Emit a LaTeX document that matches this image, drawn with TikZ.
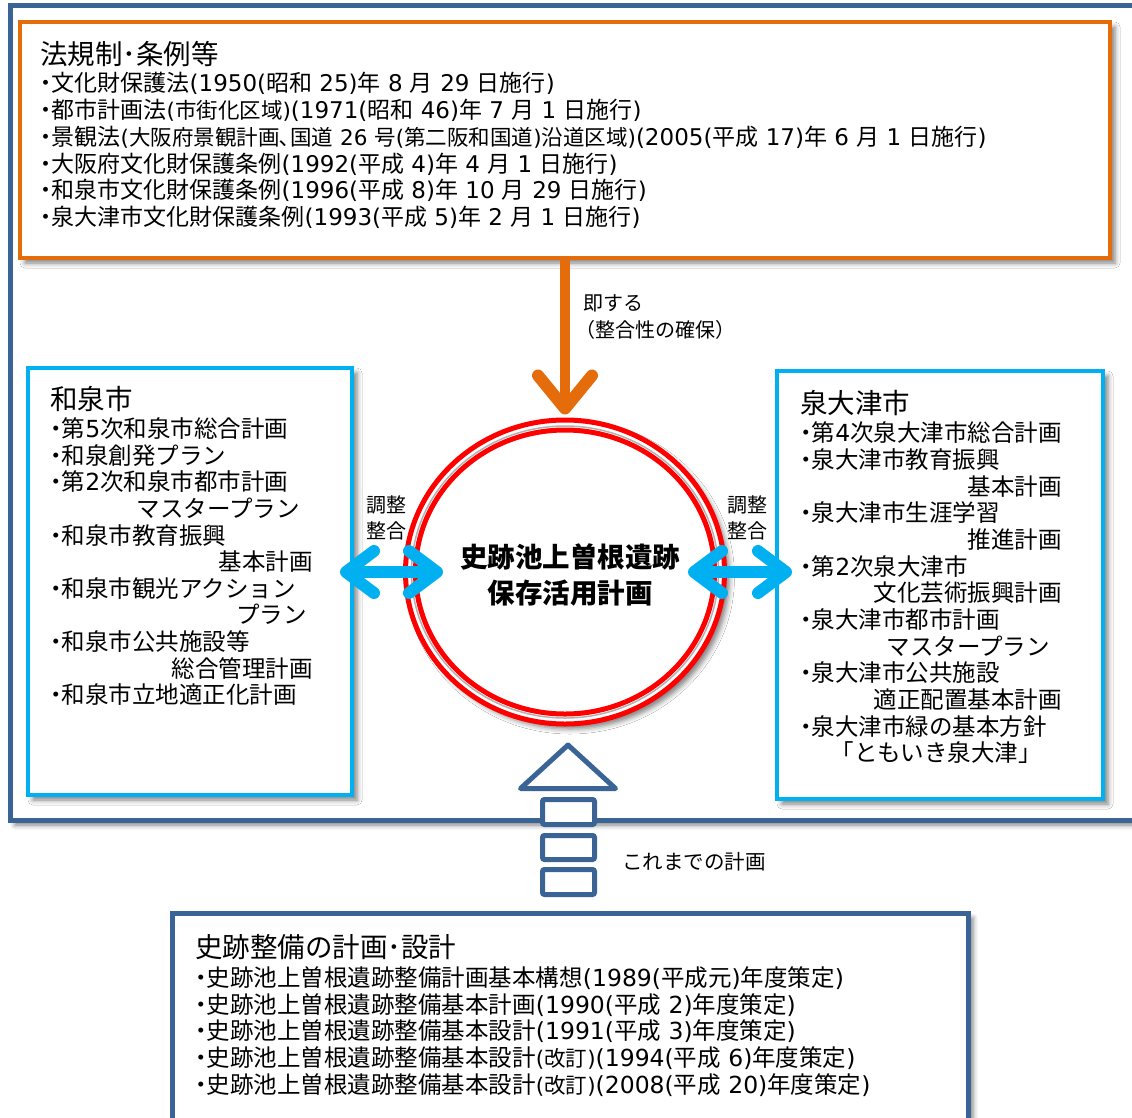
\documentclass[tikz,border=0pt]{standalone}
\usepackage{fontspec}
\setmainfont{Noto Sans CJK JP}
\newfontfamily\latf{DejaVu Sans}
\newcommand\nm[1]{{\latf #1}}
\newcommand\bul{\makebox[0.5em][c]{・}}
\newcommand\smf{\fontsize{21.5}{27}\selectfont}
\usetikzlibrary{shapes.geometric,shadows.blur,calc}
\definecolor{frameblue}{HTML}{3A6496}
\definecolor{orng}{HTML}{E46C0A}
\definecolor{cyanb}{HTML}{00B0F0}
\definecolor{ringred}{HTML}{FF0000}
\tikzset{
 shd/.style={blur shadow={shadow xshift=5pt, shadow yshift=-5pt, shadow blur radius=5pt, shadow opacity=50}},
 panel/.style={rectangle, fill=white, shd, inner sep=0pt},
 ttl/.style={font=\fontsize{27.5}{30}\selectfont, inner sep=0pt, anchor=base west},
 txt/.style={font=\fontsize{23}{27}\selectfont, inner sep=0pt, anchor=base west},
 stxt/.style={font=\fontsize{23.5}{27}\selectfont, inner sep=0pt, anchor=base west},
 rtxt/.style={stxt, anchor=base east},
 lbl/.style={font=\fontsize{20}{24}\selectfont, inner sep=0pt, anchor=base west},
 clbl/.style={lbl, anchor=base},
 ctr/.style={font=\fontsize{27.5}{30}\selectfont\bfseries, inner sep=0pt, anchor=base},
 cyanarm/.style={cyanb, line width=12, line cap=round, line join=round},
 orarm/.style={orng, line width=12, line cap=round, line join=round},
 hollow/.style={frameblue, line width=5, fill=white},
}
\begin{document}
\begin{tikzpicture}[x=1pt,y=-1pt]
\useasboundingbox (0,0) rectangle (1132,1117);
% outer frame
\draw[frameblue, line width=5, fill=white, shd] (10,5) rectangle (1150,820);

% laws box
\node[panel, draw=orng, line width=4, minimum width=1090, minimum height=236] (law) at (565,140) {};
\node[ttl] (lawT) at (40,64.5) {法規制･条例等};
\node[txt] (law1) at (40,91.7) {\bul 文化財保護法\nm{(1950(}昭和\nm{\ 25)}年\nm{\ 8\ }月\nm{\ 29\ }日施行\nm{)}};
\node[txt] (law2) at (40,118.5) {\bul 都市計画法{\smf\nm{(}市街化区域\nm{)}}\nm{(1971(}昭和\nm{\ 46)}年\nm{\ 7\ }月\nm{\ 1\ }日施行\nm{)}};
\node[txt] (law3) at (40,145.3) {\bul 景観法{\smf\nm{(}大阪府景観計画､国道\nm{\ 26\ }号\nm{(}第二阪和国道\nm{)}沿道区域\nm{)}}\nm{(2005(}平成\nm{\ 17)}年\nm{\ 6\ }月\nm{\ 1\ }日施行\nm{)}};
\node[txt] (law4) at (40,172.1) {\bul 大阪府文化財保護条例\nm{(1992(}平成\nm{\ 4)}年\nm{\ 4\ }月\nm{\ 1\ }日施行\nm{)}};
\node[txt] (law5) at (40,198.9) {\bul 和泉市文化財保護条例\nm{(1996(}平成\nm{\ 8)}年\nm{\ 10\ }月\nm{\ 29\ }日施行\nm{)}};
\node[txt] (law6) at (40,225.7) {\bul 泉大津市文化財保護条例\nm{(1993(}平成\nm{\ 5)}年\nm{\ 2\ }月\nm{\ 1\ }日施行\nm{)}};

% central plan
\node[ellipse, draw=ringred, line width=5, fill=white, shd, minimum width=319, minimum height=304, inner sep=0pt] (plan) at (565,572) {};
\draw[gray!60, line width=1.5] (plan.center) ellipse [x radius=153.5, y radius=146];
\draw[ringred, line width=5] (plan.center) ellipse [x radius=149.5, y radius=142];
\node[ctr] (plan1) at (570,567.5) {史跡池上曽根遺跡};
\node[ctr] (plan2) at (570,603.5) {保存活用計画};

% orange connector
\coordinate (otip) at ($(plan.north)+(0,-9)$);
\draw[orng, line width=10] (law.south -| otip) -- ($(otip)+(0,-4)$);
\draw[orarm] ($(otip)+(-27,-33)$) -- (otip) -- ($(otip)+(27,-33)$);
\node[lbl] (sokusu) at (583,310.6) {即する};
\node[lbl] (seigo) at (575,337.6) {（整合性の確保）};

% Izumi box
\node[panel, draw=cyanb, line width=4, minimum width=324, minimum height=427] (izumi) at (190,581.5) {};
\node[ttl] (izT) at (50,409) {和泉市};
\node[stxt] (iz1) at (50,437.7) {\bul 第\nm{5}次和泉市総合計画};
\node[stxt] (iz2) at (50,464.3) {\bul 和泉創発プラン};
\node[stxt] (iz3) at (50,490.9) {\bul 第\nm{2}次和泉市都市計画};
\node[rtxt] (iz4) at (300,517.5) {マスタープラン};
\node[stxt] (iz5) at (50,544.1) {\bul 和泉市教育振興};
\node[rtxt] (iz6) at (313,570.7) {基本計画};
\node[stxt] (iz7) at (50,597.3) {\bul 和泉市観光アクション};
\node[rtxt] (iz8) at (307,623.9) {プラン};
\node[stxt] (iz9) at (50,650.5) {\bul 和泉市公共施設等};
\node[rtxt] (iz10) at (313,677.1) {総合管理計画};
\node[stxt] (iz11) at (50,703.7) {\bul 和泉市立地適正化計画};

% Izumiotsu box
\node[panel, draw=cyanb, line width=4, minimum width=326, minimum height=428] (oz) at (940,585) {};
\node[ttl] (ozT) at (800,413.5) {泉大津市};
\node[stxt] (oz1) at (800,441.7) {\bul 第\nm{4}次泉大津市総合計画};
\node[stxt] (oz2) at (800,468.4) {\bul 泉大津市教育振興};
\node[rtxt] (oz3) at (1062,495) {基本計画};
\node[stxt] (oz4) at (800,521.7) {\bul 泉大津市生涯学習};
\node[rtxt] (oz5) at (1062,548.4) {推進計画};
\node[stxt] (oz6) at (800,575) {\bul 第\nm{2}次泉大津市};
\node[rtxt] (oz7) at (1062,601.7) {文化芸術振興計画};
\node[stxt] (oz8) at (800,628.4) {\bul 泉大津市都市計画};
\node[rtxt] (oz9) at (1050,655.1) {マスタープラン};
\node[stxt] (oz10) at (800,681.7) {\bul 泉大津市公共施設};
\node[rtxt] (oz11) at (1062,708.4) {適正配置基本計画};
\node[stxt] (oz12) at (800,735) {\bul 泉大津市緑の基本方針};
\node[rtxt] (oz13) at (1042,761.7) {「ともいき泉大津」};

% cyan double arrows
\coordinate (la) at ($(plan.west -| izumi.east)+(-8,0)$);
\coordinate (lb) at ($(plan.west)+(34,0)$);
\coordinate (ra) at ($(plan.east)+(-33,0)$);
\coordinate (rb) at ($(plan.east -| oz.west)+(11,0)$);
\draw[cyanb, line width=12] ($(la)+(4,0)$) -- ($(lb)+(-4,0)$);
\draw[cyanarm] ($(la)+(28,-21)$) -- (la) -- ($(la)+(28,21)$);
\draw[cyanarm] ($(lb)+(-28,-21)$) -- (lb) -- ($(lb)+(-28,21)$);
\draw[cyanb, line width=12] ($(ra)+(4,0)$) -- ($(rb)+(-4,0)$);
\draw[cyanarm] ($(ra)+(28,-21)$) -- (ra) -- ($(ra)+(28,21)$);
\draw[cyanarm] ($(rb)+(-28,-21)$) -- (rb) -- ($(rb)+(-28,21)$);
\node[clbl] (adjL1) at (386,512.6) {調整};
\node[clbl] (adjL2) at (386,538.6) {整合};
\node[clbl] (adjR1) at (747,512.6) {調整};
\node[clbl] (adjR2) at (747,538.6) {整合};

% hollow upward arrow (previous plans)
\draw[hollow, line join=round] (568,745) -- (615.5,788.5) -- (520.5,788.5) -- cycle;
\draw[hollow, rounded corners=2] (542.5,799.5) rectangle (594.5,824.5);
\draw[hollow, rounded corners=2] (542.5,835.5) rectangle (594.5,859.5);
\draw[hollow, rounded corners=2] (542.5,869.5) rectangle (594.5,894.5);
\node[lbl, font=\fontsize{20.5}{24}\selectfont] (prev) at (622,869.6) {これまでの計画};

% history box
\node[panel, draw=frameblue, line width=5, minimum width=796, minimum height=230] (hist) at (570,1028) {};
\node[ttl] (hiT) at (195,957.5) {史跡整備の計画･設計};
\node[stxt] (hi1) at (195,986.7) {\bul 史跡池上曽根遺跡整備計画基本構想\nm{(1989(}平成元\nm{)}年度策定\nm{)}};
\node[stxt] (hi2) at (195,1013.3) {\bul 史跡池上曽根遺跡整備基本計画\nm{(1990(}平成\nm{\ 2)}年度策定\nm{)}};
\node[stxt] (hi3) at (195,1039.9) {\bul 史跡池上曽根遺跡整備基本設計\nm{(1991(}平成\nm{\ 3)}年度策定\nm{)}};
\node[stxt] (hi4) at (195,1066.5) {\bul 史跡池上曽根遺跡整備基本設計{\smf\nm{(}改訂\nm{)}}\nm{(1994(}平成\nm{\ 6)}年度策定\nm{)}};
\node[stxt] (hi5) at (195,1093.1) {\bul 史跡池上曽根遺跡整備基本設計{\smf\nm{(}改訂\nm{)}}\nm{(2008(}平成\nm{\ 20)}年度策定\nm{)}};
\end{tikzpicture}
\end{document}
